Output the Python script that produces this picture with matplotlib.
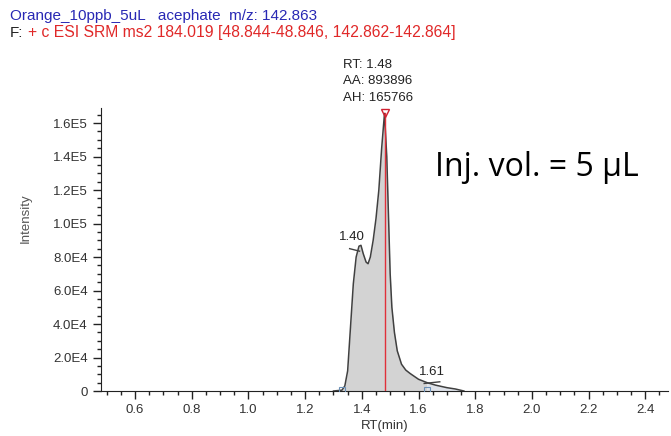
import matplotlib
matplotlib.use("Agg")
import matplotlib.pyplot as plt
from matplotlib.ticker import MultipleLocator
import numpy as np

# ---- data ----
rt = [1.300, 1.330, 1.340, 1.350, 1.360, 1.370, 1.380, 1.390, 1.397, 1.405,
      1.415, 1.422, 1.430, 1.440, 1.450, 1.460, 1.470, 1.480, 1.488, 1.494,
      1.500, 1.506, 1.515, 1.525, 1.540, 1.555, 1.570, 1.600, 1.630, 1.660,
      1.700, 1.730, 1.760]
intensity = [0, 500, 3000, 12000, 38000, 64000, 80000, 86500, 87000, 82000,
             77000, 76000, 80000, 90000, 103000, 120000, 145000, 165766, 140000, 105000,
             70000, 50000, 35000, 24000, 16000, 12500, 10500, 7000, 5000, 3500,
             2000, 1200, 0]
peak_rt = 1.48
peak_area = 893896
peak_height = 165766
shoulder_rt = 1.40
minor_rt = 1.61
main_start, main_end = 1.33, 1.63

xticks = [0.6, 0.8, 1.0, 1.2, 1.4, 1.6, 1.8, 2.0, 2.2, 2.4]
xticklabels = ["0.6", "0.8", "1.0", "1.2", "1.4", "1.6", "1.8", "2.0", "2.2", "2.4"]
yticks = [0, 20000, 40000, 60000, 80000, 100000, 120000, 140000, 160000]
yticklabels = ["0", "2.0E4", "4.0E4", "6.0E4", "8.0E4", "1.0E5", "1.2E5", "1.4E5", "1.6E5"]

header1 = "Orange_10ppb_5uL   acephate  m/z: 142.863"
header2a = "F:"
header2b = "+ c ESI SRM ms2 184.019 [48.844-48.846, 142.862-142.864]"
inj_text = "Inj. vol. = 5 µL"

# ---- figure ----
plt.rcParams['font.family'] = ['Liberation Sans', 'DejaVu Sans']
fig = plt.figure(figsize=(6.71, 4.36), dpi=100)
ax = fig.add_axes([101/671, 1-391/436, 567/671, 283/436])

ax.set_xlim(0.48, 2.48)
ax.set_ylim(0, 169000)

# fills
rt_a = np.array(rt); in_a = np.array(intensity)
m1 = (rt_a >= main_start) & (rt_a <= main_end)
ax.fill_between(rt_a[m1], 0, in_a[m1], color='#d3d3d3', lw=0, zorder=1)
m2 = rt_a >= main_end
ax.fill_between(rt_a[m2], 0, in_a[m2], color='#dfe3ea', lw=0, zorder=1)
ax.plot(rt, intensity, color='#404040', lw=1.1, zorder=3)

# peak marker line
ax.plot([peak_rt, peak_rt], [0, peak_height], color='#e0303a', lw=1.0, zorder=4)
ax.plot([peak_rt], [peak_height], marker='v', markersize=6, markerfacecolor='none',
        markeredgecolor='#d02030', mew=1.0, zorder=5, clip_on=False)

# baseline markers
for xb in (main_start, main_end):
    ax.plot([xb], [800], marker='s', markersize=4, markerfacecolor='none',
            markeredgecolor='#6a8fb5', mew=0.8, zorder=5)

# labels
ax.annotate("RT: %.2f" % peak_rt, xy=(peak_rt, peak_height), xytext=(-30, 33),
            textcoords='offset points', fontsize=9.5, color='#222222', ha='left', va='baseline',
            annotation_clip=False)
ax.annotate("AA: %d" % peak_area, xy=(peak_rt, peak_height), xytext=(-30, 21),
            textcoords='offset points', fontsize=9.5, color='#222222', ha='left', va='baseline',
            annotation_clip=False)
ax.annotate("AH: %d" % peak_height, xy=(peak_rt, peak_height), xytext=(-30, 9),
            textcoords='offset points', fontsize=9.5, color='#222222', ha='left', va='baseline',
            annotation_clip=False)

ax.annotate("%.2f" % shoulder_rt, xy=(1.365, 87000), xytext=(0, 2), textcoords='offset points',
            fontsize=9.5, color='#222222', ha='center', va='bottom')
ax.plot([1.357, 1.392], [85000, 83500], color='#404040', lw=1.0, zorder=4)
ax.annotate("%.2f" % minor_rt, xy=(1.648, 5500), xytext=(0, 3), textcoords='offset points',
            fontsize=9.5, color='#222222', ha='center', va='bottom')
ax.plot([1.62, 1.675], [4500, 5500], color='#404040', lw=1.0, zorder=4)

# axes styling
for s in ('top', 'right'):
    ax.spines[s].set_visible(False)
ax.spines['left'].set_color('#222222')
ax.spines['bottom'].set_color('#222222')
ax.set_xticks(xticks)
ax.set_xticklabels(xticklabels)
ax.set_yticks(yticks)
ax.set_yticklabels(yticklabels)
ax.xaxis.set_minor_locator(MultipleLocator(0.05))
ax.yaxis.set_minor_locator(MultipleLocator(5000))
ax.tick_params(which='major', length=6, width=1, color='#222222', labelsize=9.5,
               labelcolor='#333333', direction='out')
ax.tick_params(which='minor', length=3, width=1, color='#222222', direction='out')
ax.set_xlabel("RT(min)", fontsize=9.5, color='#333333', labelpad=3)
ax.set_ylabel("Intensity", fontsize=9.5, color='#555555')
ax.yaxis.set_label_coords(-0.122, 0.61)

# header
fig.text(10/671, 1-20/436, header1, fontsize=11, color='#2828b4', ha='left', va='baseline')
fig.text(10/671, 1-37/436, header2a, fontsize=11, color='#222222', ha='left', va='baseline')
fig.text(28/671, 1-37/436, header2b, fontsize=11.3, color='#e02828', ha='left', va='baseline')

fig.text(435/671, 1-176/436, inj_text, fontsize=23, color='black', ha='left', va='baseline',
         family=['Open Sans', 'DejaVu Sans'])

fig.savefig("out.png", dpi=100)
